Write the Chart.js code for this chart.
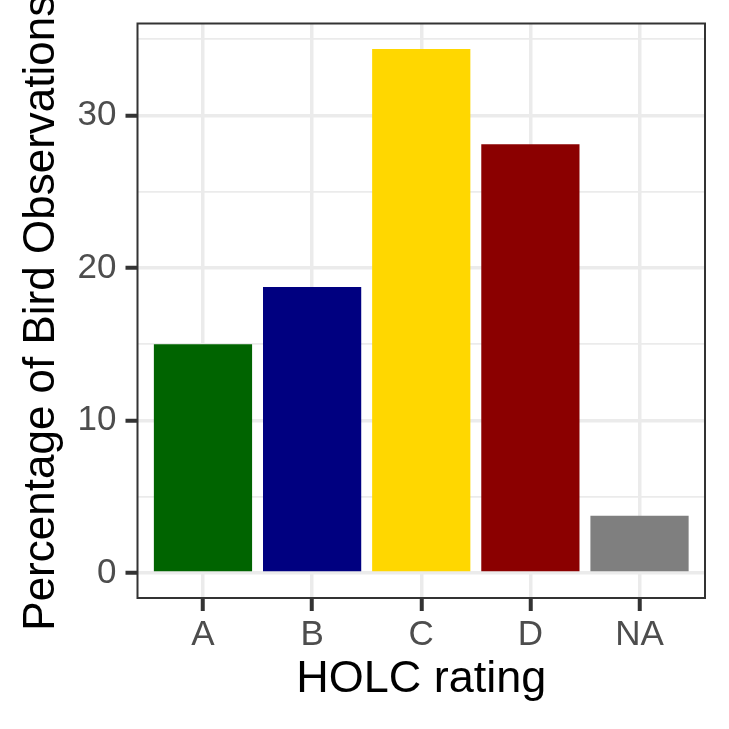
<!DOCTYPE html>
<html>
<head>
<meta charset="utf-8">
<script src="https://cdn.jsdelivr.net/npm/chart.js@4"></script>
<style>
  body { margin: 0; background: #fff; }
  canvas { display: block; }
</style>
</head>
<body>
<canvas id="chart" width="729" height="729"></canvas>
<script>
const categories = ["A", "B", "C", "D", "NA"];
const percentages = [15.0, 18.75, 34.35, 28.1, 3.75];
const barColors = ["#006400", "#000080", "#FFD700", "#8B0000", "#7F7F7F"];
const yTicks = [0, 5, 10, 15, 20, 25, 30, 35];
const xTitle = "HOLC rating";
const yTitle = "Percentage of Bird Observations";

const FONT = "'Liberation Sans', Arial, sans-serif";

// panel border + rotated y title (chart.js would squash it to fit)
const panelPlugin = {
  id: "panel",
  afterDraw(chart) {
    const { ctx, chartArea: a } = chart;
    ctx.save();
    ctx.strokeStyle = "#333333";
    ctx.lineWidth = 2;
    ctx.strokeRect(a.left, a.top, a.right - a.left, a.bottom - a.top);
    ctx.translate(54, (a.top + a.bottom) / 2 + 2);
    ctx.rotate(-Math.PI / 2);
    ctx.font = "44px " + FONT;
    ctx.fillStyle = "#000";
    ctx.textAlign = "center";
    ctx.textBaseline = "alphabetic";
    ctx.fillText(yTitle, 0, 0);
    ctx.restore();
  }
};

function noPad(s) {
  s.paddingTop = 0;
  s.paddingBottom = 0;
  s.paddingLeft = 0;
  s.paddingRight = 0;
}

const chart = new Chart(document.getElementById("chart").getContext("2d"), {
  type: "bar",
  data: {
    datasets: [{
      data: percentages.map((v, i) => ({ x: i + 1, y: v })),
      backgroundColor: barColors,
      borderWidth: 0,
      categoryPercentage: 1,
      barPercentage: 0.9
    }]
  },
  options: {
    responsive: false,
    animation: false,
    layout: { padding: { top: 23.5, right: 24, left: 0, bottom: 0 } },
    plugins: { legend: { display: false }, tooltip: { enabled: false } },
    scales: {
      x: {
        type: "linear",
        offset: false,
        min: 0.4,
        max: 5.6,
        afterBuildTicks: s => { s.ticks = categories.map((c, i) => ({ value: i + 1 })); },
        afterFit: s => { s.height = 729 - 598; noPad(s); },
        ticks: {
          callback: v => categories[v - 1],
          font: { family: FONT, size: 35 },
          color: "#4D4D4D",
          padding: 3,
          maxRotation: 0,
          autoSkip: false
        },
        grid: {
          offset: false,
          color: "#EBEBEB",
          lineWidth: 3.5,
          tickColor: "#333333",
          tickLength: 13,
          tickWidth: 4
        },
        border: { display: false },
        title: {
          display: true,
          text: xTitle,
          font: { family: FONT, size: 45 },
          color: "#000",
          padding: { top: 0, bottom: 22.5 }
        }
      },
      y: {
        min: -1.64,
        max: 36.02,
        afterBuildTicks: s => { s.ticks = yTicks.map(v => ({ value: v })); },
        afterFit: s => { s.width = 137.5; noPad(s); },
        ticks: {
          callback: v => (v % 10 === 0 ? String(v) : ""),
          font: { family: FONT, size: 35 },
          color: "#4D4D4D",
          padding: 9
        },
        grid: {
          color: "#EBEBEB",
          lineWidth: c => (c.tick && c.tick.value % 10 === 0 ? 3.5 : 1.8),
          tickColor: c => (c.tick && c.tick.value % 10 === 0 ? "#333333" : "rgba(0,0,0,0)"),
          tickLength: 12,
          tickWidth: 4
        },
        border: { display: false }
      }
    }
  },
  plugins: [panelPlugin]
});
</script>
</body>
</html>
